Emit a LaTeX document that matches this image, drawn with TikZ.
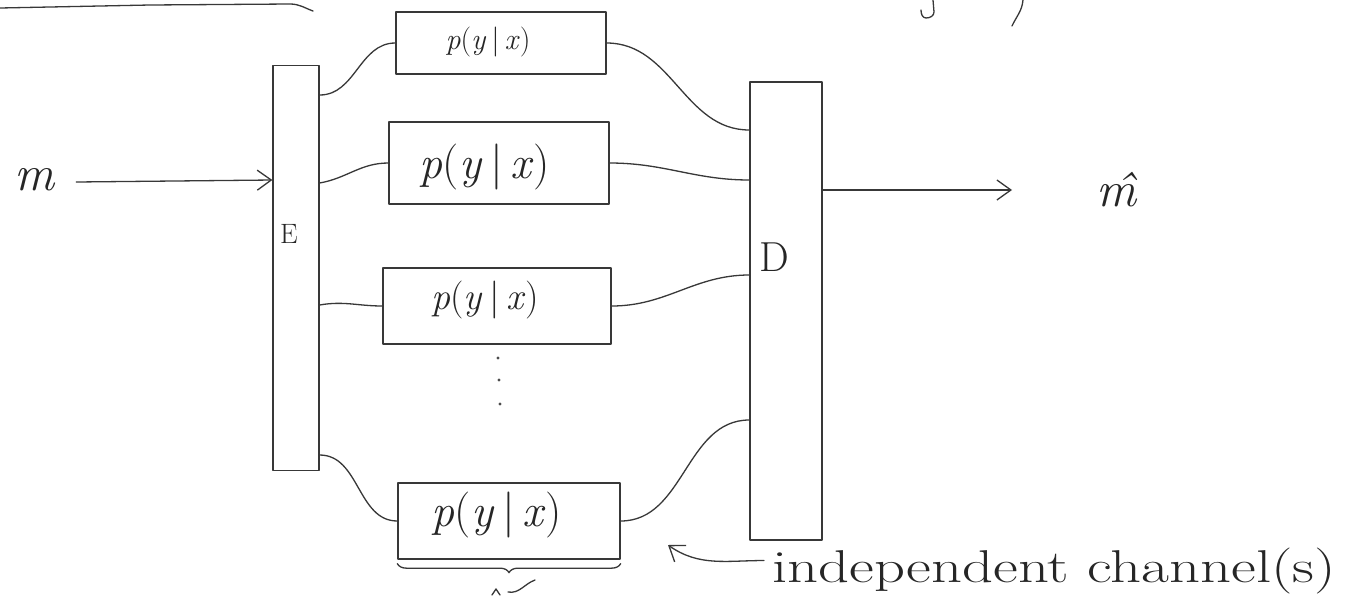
\documentclass[tikz,border=0pt]{standalone}
\usetikzlibrary{arrows.meta,decorations.pathreplacing}
\newcommand{\pyx}{\textit{p}(\textit{y}\,|\,\textit{x})}
\begin{document}
\begin{tikzpicture}[x=1pt,y=-1pt,
  pencil/.style={draw=black!78,line width=1.3pt,line cap=round,line join=round},
  bar/.style={pencil,rectangle,inner sep=0pt},
  chan/.style={pencil,rectangle,inner sep=0pt},
  wire/.style={pencil},
  arr/.style={pencil,-{Straight Barb[length=14pt,width=20pt,line width=1.3pt]}},
  lbl/.style={text=black!85,inner sep=0pt}]
\useasboundingbox (0,0) rectangle (1354,595);
\fill[white] (0,0) rectangle (1354,595);

% fragments at the top edge
\draw[pencil] (0,8) -- (150,5) -- (290,4) to[out=0,in=160] (313,11);
\draw[pencil] (933,0) -- (934,12) to[out=-90,in=0] (926,18) to[out=180,in=-90] (921,10);
\draw[pencil] (1023,0) to[out=-95,in=65] (1012,26);

% encoder, decoder
\node[bar,minimum width=46pt,minimum height=405pt] (E) at (296,268) {};
\node[lbl,font=\fontsize{28}{30}\selectfont] (Elab) at (289,234) {E};
\node[bar,minimum width=72pt,minimum height=458pt] (D) at (786,311) {};
\node[lbl,font=\fontsize{42}{44}\selectfont] (Dlab) at (774,257) {D};

% channels
\node[chan,minimum width=210pt,minimum height=62pt] (c1) at (501,43) {};
\node[lbl,font=\fontsize{30}{32}\selectfont] (t1) at (488,42) {\pyx};
\node[chan,minimum width=220pt,minimum height=82pt] (c2) at (499,163) {};
\node[lbl,font=\fontsize{46}{48}\selectfont] (t2) at (485,167) {\pyx};
\node[chan,minimum width=228pt,minimum height=76pt] (c3) at (497,306) {};
\node[lbl,font=\fontsize{38}{40}\selectfont] (t3) at (485,300) {\pyx};
\node[chan,minimum width=222pt,minimum height=76pt] (c4) at (509,521) {};
\node[lbl,font=\fontsize{46}{48}\selectfont] (t4) at (497,515) {\pyx};

% vertical dots
\fill[black!70] (498,358) circle (1.7pt) (499,380) circle (1.7pt) (500,404) circle (1.7pt);

% brace under last channel
\draw[pencil,decorate,decoration={brace,mirror,amplitude=9pt}]
  ([yshift=-4pt]c4.south west) -- ([yshift=-4pt]c4.south east);
\draw[pencil] (508,592) to[out=-10,in=200] (535,580);
\draw[pencil] (492,595) -- (496,589) -- (500,595);

% input and output
\node[lbl,font=\fontsize{50}{52}\selectfont\itshape] (m) at (34,180) {m};
\node[lbl,font=\fontsize{50}{52}\selectfont\itshape] (mh) at (1116,190) {\^m};
\draw[arr] (m.east) ++(22,2) -- (m -| E.west);
\draw[arr] (D.east |- 0,190) -- (1012,190);

% encoder to channels
\draw[wire] (E.east |- 0,95) to[out=0,in=180] (c1.west);
\draw[wire] (E.east |- 0,183) to[out=10,in=180] (c2.west);
\draw[wire] (E.east |- 0,305) to[out=10,in=180] (c3.west);
\draw[wire] (E.east |- 0,455) to[out=0,in=180] (c4.west);

% channels to decoder
\draw[wire] (c1.east) to[out=0,in=180] (D.west |- 0,130);
\draw[wire] (c2.east) to[out=0,in=180] (D.west |- 0,180);
\draw[wire] (c3.east) to[out=0,in=180] (D.west |- 0,275);
\draw[wire] (c4.east) to[out=0,in=180] (D.west |- 0,420);

% annotation
\node[lbl,anchor=base west,xscale=1.32,font=\fontsize{46}{48}\selectfont] (note) at (772,582) {independent channel(s)};
\coordinate (tipIC) at (668,545);
\draw[arr] (note.west) ++(-8,-10) to[out=180,in=-35] (tipIC);
\end{tikzpicture}
\end{document}
